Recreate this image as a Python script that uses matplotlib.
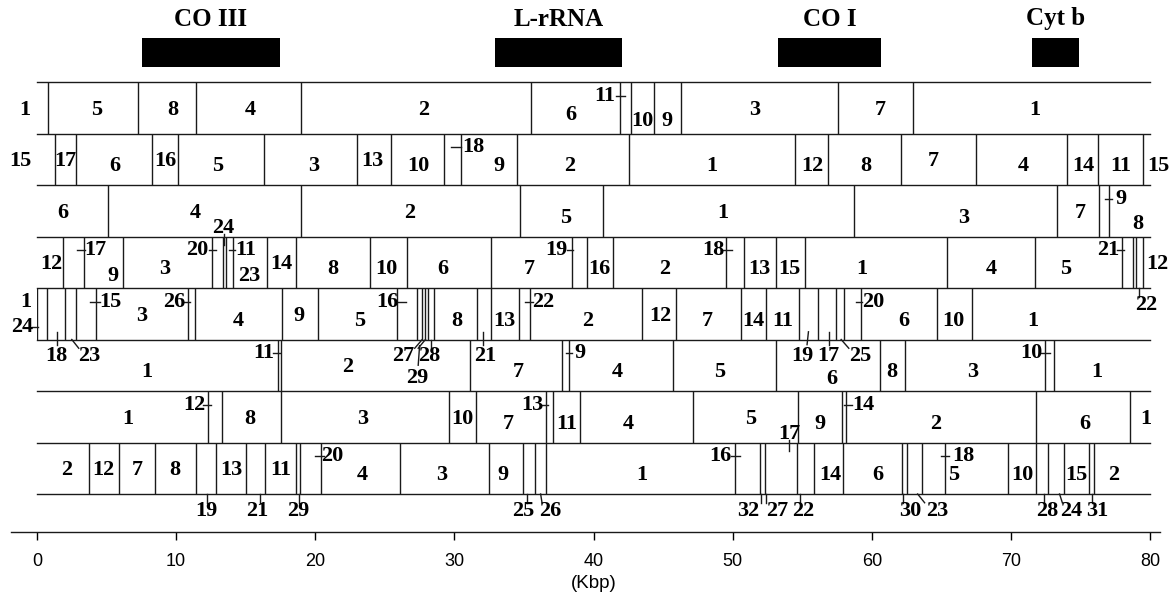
import matplotlib
matplotlib.use('Agg')
import matplotlib.pyplot as plt

# gene markers above the map (Kbp)
genes = ['CO III', 'L-rRNA', 'CO I', 'Cyt b']
gene_start = [7.55, 32.93, 53.27, 71.53]
gene_end = [17.47, 42.06, 60.68, 74.91]

# row 1
r1_cuts = [0.78, 7.28, 11.43, 18.96, 35.53, 41.93, 42.68, 44.36, 46.28, 57.54, 63.0]
r1_text = ['1', '5', '8', '4', '2', '6', '11', '10', '9', '3', '7', '1']
r1_pos = [-0.85, 4.3, 9.75, 15.3, 27.8, 38.4, 40.8, 43.5, 45.3, 51.6, 60.6, 71.7]
r1_lev = ['m', 'm', 'm', 'm', 'm', 'ml', 'u', 'l', 'l', 'm', 'm', 'm']
r1_ticks = [('hu', 41.6, 42.3)]

# row 2
r2_cuts = [1.32, 2.80, 8.30, 10.12, 16.32, 23.03, 25.41, 29.29, 30.47, 34.48, 42.55,
           54.51, 56.89, 62.08, 67.48, 74.05, 76.29, 79.48]
r2_text = ['15', '17', '6', '16', '5', '3', '13', '10', '18', '9', '2', '1', '12', '8',
           '7', '4', '14', '11', '15']
r2_pos = [-1.2, 2.05, 5.6, 9.25, 13.0, 19.9, 24.1, 27.4, 31.4, 33.2, 38.3, 48.5, 55.7,
          59.6, 64.4, 70.9, 75.2, 77.9, 80.6]
r2_lev = ['m', 'm', 'ml', 'm', 'ml', 'ml', 'm', 'ml', 'u', 'ml', 'ml', 'ml', 'ml', 'ml',
          'm', 'ml', 'ml', 'ml', 'ml']
r2_ticks = [('hu', 29.75, 30.5)]

# row 3
r3_cuts = [5.09, 19.01, 34.75, 40.65, 58.71, 73.35, 76.35, 77.07, 80.1]
r3_text = ['6', '4', '2', '5', '1', '3', '7', '9', '8']
r3_pos = [1.87, 11.35, 26.8, 38.0, 49.3, 66.6, 75.0, 77.9, 79.1]
r3_lev = ['m', 'm', 'm', 'ml', 'm', 'ml', 'm', 'u', 'l']
r3_ticks = [('hu', 76.8, 77.3)]

# row 4
r4_cuts = [1.87, 3.38, 6.16, 12.59, 13.36, 13.55, 14.07, 16.51, 18.63, 23.90, 26.62,
           32.64, 38.46, 39.5, 41.41, 49.52, 50.79, 53.11, 55.17, 65.43, 71.72, 78.02,
           78.75, 79.02, 79.48]
r4_text = ['12', '17', '9', '3', '20', '24', '11', '23', '14', '8', '10', '6', '7', '19',
           '16', '2', '18', '13', '15', '1', '4', '5', '21', '12', '22']
r4_pos = [1.05, 4.2, 5.45, 9.15, 11.5, 13.4, 15.0, 15.25, 17.53, 21.24, 25.08, 29.2,
          35.4, 37.3, 40.45, 45.1, 48.6, 51.95, 54.1, 59.3, 68.6, 73.9, 77.0, 80.5, 79.7]
r4_lev = ['m', 'u', 'l', 'ml', 'u', 'a', 'u', 'l', 'm', 'ml', 'ml', 'ml', 'ml', 'u',
          'ml', 'ml', 'u', 'ml', 'ml', 'ml', 'ml', 'ml', 'u', 'm', 'b']
r4_ticks = [('hu', 2.85, 3.45), ('hu', 12.35, 12.85), ('vt', 13.45, 13.45),
            ('hu', 13.8, 14.25), ('hu', 38.1, 38.55), ('hu', 49.2, 49.95),
            ('hu', 77.65, 78.15), ('vb', 79.2, 79.2)]

# row 5
r5_cuts = [0.0, 0.69, 2.01, 2.81, 4.26, 10.86, 11.35, 17.61, 20.19, 25.91, 27.34, 27.69,
           27.92, 28.11, 28.52, 31.60, 32.64, 34.62, 35.44, 43.49, 45.92, 50.6, 52.41,
           54.79, 56.11, 57.40, 58.03, 59.24, 64.7, 67.22]
r5_text = ['1', '24', '18', '23', '15', '3', '26', '4', '9', '5', '16', '27', '28', '29',
           '8', '21', '13', '22', '2', '12', '7', '14', '11', '19', '17', '25', '20', '6',
           '10', '1']
r5_pos = [-0.8, -1.1, 1.4, 3.75, 5.3, 7.5, 9.85, 14.45, 18.85, 23.2, 25.2, 26.3, 28.2,
          27.3, 30.2, 32.2, 33.6, 36.4, 39.6, 44.8, 48.2, 51.5, 53.6, 55.0, 56.9, 59.2,
          60.1, 62.3, 65.9, 71.6]
r5_lev = ['u', 'l', 'b', 'b', 'u', 'm', 'u', 'ml', 'm', 'ml', 'u', 'b', 'b', 'bb', 'ml',
          'b', 'ml', 'u', 'ml', 'm', 'ml', 'ml', 'ml', 'b', 'b', 'b', 'u', 'ml', 'ml', 'ml']
r5_ticks = [('hl', -0.35, 0.1), ('vi', 1.41, 1.41), ('vb', 2.5, 3.0), ('hu', 3.8, 4.5),
            ('hu', 10.5, 11.0), ('hu', 25.85, 26.5), ('vb', 27.69, 27.15),
            ('vb', 27.92, 27.4), ('bb', 27.5, 27.4), ('vb', 28.33, 28.33),
            ('vi', 32.05, 32.05), ('hu', 35.1, 35.65), ('hu', 58.85, 59.3),
            ('vi', 55.45, 55.35), ('vi', 56.95, 56.95), ('vb', 57.8, 58.35)]

# row 6
r6_cuts = [17.34, 17.53, 31.13, 37.72, 38.27, 45.74, 53.14, 60.57, 62.41, 72.48, 73.08]
r6_text = ['1', '11', '2', '7', '9', '4', '5', '6', '8', '3', '10', '1']
r6_pos = [7.9, 16.3, 22.3, 34.56, 39.0, 41.74, 49.1, 57.1, 61.46, 67.27, 71.46, 76.2]
r6_lev = ['ml', 'u', 'm', 'ml', 'u', 'ml', 'ml', 'l', 'ml', 'ml', 'u', 'ml']
r6_ticks = [('hu', 16.95, 17.45), ('hu', 38.0, 38.45), ('hu', 72.2, 72.8)]

# row 7
r7_cuts = [12.3, 13.3, 17.54, 29.6, 31.56, 36.55, 37.1, 39.0, 47.16, 54.7, 57.87, 58.16,
           71.82, 78.58]
r7_text = ['1', '12', '8', '3', '10', '7', '13', '11', '4', '5', '9', '14', '2', '6', '1']
r7_pos = [6.5, 11.3, 15.3, 23.4, 30.55, 33.9, 35.6, 38.05, 42.5, 51.3, 56.3, 59.4, 64.6,
          75.3, 79.7]
r7_lev = ['m', 'u', 'm', 'm', 'm', 'ml', 'u', 'ml', 'ml', 'm', 'ml', 'u', 'ml', 'ml', 'm']
r7_ticks = [('hu', 11.9, 12.5), ('hu', 36.2, 36.75), ('hu', 58.0, 58.6)]

# row 8
r8_cuts = [3.74, 5.9, 8.48, 11.43, 12.9, 15.02, 16.4, 18.6, 18.9, 20.4, 26.1, 32.5, 34.9,
           35.8, 36.6, 50.2, 52.0, 52.3, 54.6, 55.86, 57.9, 62.2, 62.5, 63.6, 65.3, 69.8,
           71.8, 72.7, 73.8, 75.6, 76.0]
r8_text = ['2', '12', '7', '8', '13', '11', '20', '4', '3', '9', '1', '16', '17', '14', '6',
           '18', '5', '10', '15', '2', '19', '21', '29', '25', '26', '32', '27', '22', '30',
           '23', '28', '24', '31']
r8_pos = [2.1, 4.75, 7.2, 9.9, 14.0, 17.5, 21.2, 23.4, 29.1, 33.5, 43.5, 49.1, 54.1, 57.0,
          60.4, 66.6, 65.85, 70.8, 74.7, 77.4, 12.2, 15.8, 18.8, 34.95, 36.9, 51.1, 53.2,
          55.1, 62.75, 64.7, 72.6, 74.35, 76.2]
r8_lev = ['m', 'm', 'm', 'm', 'm', 'm', 'u', 'ml', 'ml', 'ml', 'ml', 'u', 'a', 'ml', 'ml',
          'u', 'ml', 'ml', 'ml', 'ml', 'b', 'b', 'b', 'b', 'b', 'b', 'b', 'b', 'b', 'b',
          'b', 'b', 'b']
r8_ticks = [('hu', 20.0, 20.6), ('hu', 49.85, 50.5), ('vt', 54.05, 54.05),
            ('hu', 64.95, 65.55), ('vb', 12.2, 12.2), ('vb', 16.0, 16.0),
            ('vb', 18.85, 18.85), ('vb', 35.25, 35.25), ('vb', 36.2, 36.3),
            ('vb', 52.05, 52.05), ('vb', 52.4, 52.4), ('vb', 54.85, 54.85),
            ('vb', 62.25, 62.25), ('vb', 63.3, 63.8), ('vb', 72.4, 72.4),
            ('vb', 73.5, 73.7), ('vb', 75.85, 75.85)]

rows = [
    (r1_cuts, r1_text, r1_pos, r1_lev, r1_ticks),
    (r2_cuts, r2_text, r2_pos, r2_lev, r2_ticks),
    (r3_cuts, r3_text, r3_pos, r3_lev, r3_ticks),
    (r4_cuts, r4_text, r4_pos, r4_lev, r4_ticks),
    (r5_cuts, r5_text, r5_pos, r5_lev, r5_ticks),
    (r6_cuts, r6_text, r6_pos, r6_lev, r6_ticks),
    (r7_cuts, r7_text, r7_pos, r7_lev, r7_ticks),
    (r8_cuts, r8_text, r8_pos, r8_lev, r8_ticks),
]

# vertical placement of labels inside a row (fraction of row height)
levels = {'a': -0.17, 'u': 0.27, 'm': 0.54, 'ml': 0.64, 'l': 0.76, 'b': 1.33, 'bb': 1.74}
tick_y = {'hu': (0.27, 0.27), 'hl': (0.76, 0.76), 'vb': (1.0, 1.17), 'vt': (-0.05, 0.17),
          'vi': (0.85, 1.1), 'bb': (1.12, 1.5)}

serif = dict(fontfamily='Liberation Serif', fontweight='bold', fontsize=16)

fig = plt.figure(figsize=(11.7, 6.03), dpi=100)
ax = fig.add_axes([37 / 1170, 71 / 603, 1113 / 1170, 532 / 603])
ax.set_xlim(0, 80)
ax.set_ylim(532, 0)
for s in ax.spines.values():
    s.set_visible(False)
ax.set_yticks([])
ax.set_xticks(range(0, 81, 10))
ax.tick_params(axis='x', length=6, width=1, pad=9, labelsize=13)
for lab in ax.get_xticklabels():
    lab.set_fontfamily('Liberation Sans')

# gene bars
ax.barh([52.5] * len(genes), [e - s for s, e in zip(gene_start, gene_end)],
        left=gene_start, height=29, color='black')
for g, s, e in zip(genes, gene_start, gene_end):
    ax.text((s + e) / 2, 19, g, ha='center', va='center', clip_on=False,
            fontfamily='Liberation Serif', fontweight='bold', fontsize=18)

top0 = 82
row_h = 51.5
lc = '#1a1a1a'

for i in range(9):
    y = top0 + i * row_h
    ax.plot([0, 80], [y, y], color=lc, lw=1, clip_on=False)
ax.plot([-1.9, 80.7], [532, 532], color=lc, lw=1, clip_on=False)

for i, (cuts, text, pos, lev, ticks) in enumerate(rows):
    top = top0 + i * row_h
    ax.vlines(cuts, top, top + row_h, color=lc, lw=1)
    for t, x, l in zip(text, pos, lev):
        ax.text(x, top + levels[l] * row_h, t, ha='center', va='center',
                clip_on=False, **serif)
    for kind, x0, x1 in ticks:
        y0, y1 = tick_y[kind]
        ax.plot([x0, x1], [top + y0 * row_h, top + y1 * row_h], color=lc, lw=1,
                clip_on=False)

fig.text(594 / 1170, 1 - 583 / 603, '(Kbp)', ha='center', va='center',
         fontfamily='Liberation Sans', fontsize=13.5)

fig.savefig('out.png', dpi=100)
